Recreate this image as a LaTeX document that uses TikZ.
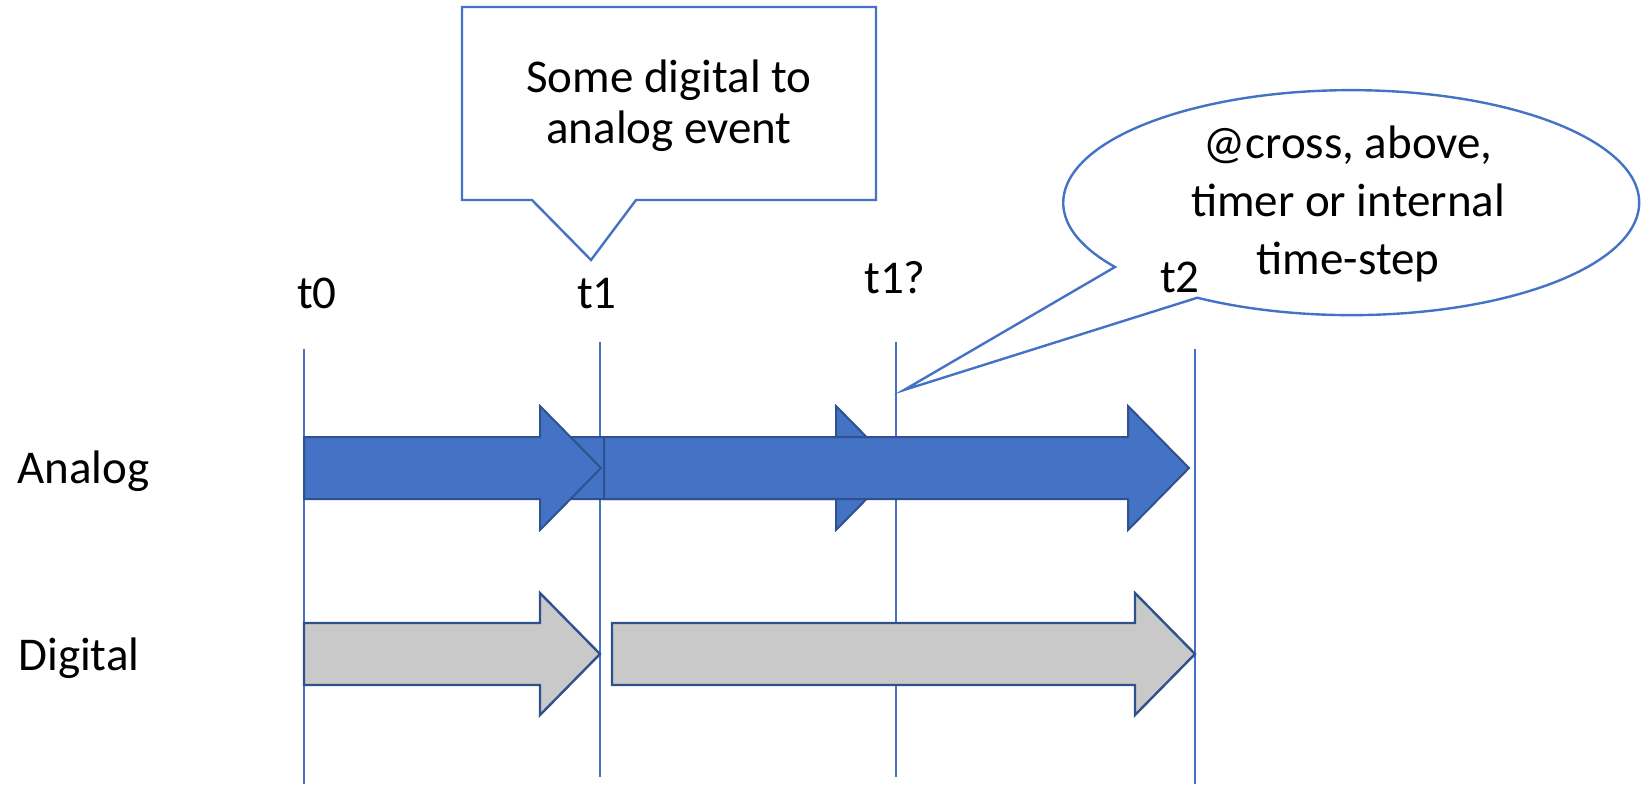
\documentclass[tikz,border=0pt]{standalone}
\usepackage{fontspec}
\setmainfont{Carlito}
\definecolor{accent}{HTML}{4472C4}
\definecolor{rim}{HTML}{2F528F}
\definecolor{idle}{HTML}{C9C9C9}

\begin{document}
\begin{tikzpicture}[x=0.5pt, y=-0.5pt,
    font=\fontsize{23.5}{25.5}\selectfont,
    tick/.style = {draw=accent, line width=0.7pt},
    analog/.style = {draw=rim, fill=accent, line width=1pt},
    digital/.style = {draw=rim, fill=idle, line width=1.2pt},
    bubble/.style = {draw=accent, fill=white, line width=1.2pt}]
  \useasboundingbox (0,0) rectangle (1641,784);
  % time marks
  \draw[tick] (304,349) -- (304,784);
  \draw[tick] (600,342) -- (600,777);
  \draw[tick] (896,342) -- (896,777);
  \draw[tick] (1195,349) -- (1195,784);
  \node[anchor=base west, inner sep=0] (analog) at (17,483) {Analog};
  \node[anchor=base west, inner sep=0] (digital) at (18,670) {Digital};
  % analog steps, the t1 -> t1? one sits underneath
  \draw[analog] (560,437) -- (836,437) -- (836,406) -- (897,468) -- (836,530) -- (836,499) -- (560,499) -- cycle;
  \draw[analog] (304,437) -- (540,437) -- (540,406) -- (601,468) -- (540,530) -- (540,499) -- (304,499) -- cycle;
  \draw[analog] (604,437) -- (1128,437) -- (1128,406) -- (1189,468) -- (1128,530) -- (1128,499) -- (604,499) -- cycle;
  % digital steps
  \draw[digital] (304,623) -- (540,623) -- (540,593) -- (600,654) -- (540,715) -- (540,685) -- (304,685) -- cycle;
  \draw[digital] (612,623) -- (1135,623) -- (1135,593) -- (1195,654) -- (1135,715) -- (1135,685) -- (612,685) -- cycle;
  % callouts
  \draw[bubble] (462,7) -- (876,7) -- (876,200) -- (636,200) -- (591,260) -- (532,200) -- (462,200) -- cycle;
  \node[align=center] (event) at (669,106) {Some digital to\\analog event};
  \draw[bubble] (1115,267) arc[start angle=145.1, end angle=482.3, x radius=288, y radius=112.5] -- (904,390) -- cycle;
  \node[align=center, font=\fontsize{23.5}{29}\selectfont] (cond) at (1348,204) {@cross, above,\\timer or internal\\time-step};
  % time labels go last, t2 overlaps the bubble
  \node[anchor=base] (t0) at (317,308) {t0};
  \node[anchor=base] (t1) at (597,308) {t1};
  \node[anchor=base] (t1q) at (895,293) {t1?};
  \node[anchor=base] (t2) at (1180,292) {t2};
\end{tikzpicture}
\end{document}
